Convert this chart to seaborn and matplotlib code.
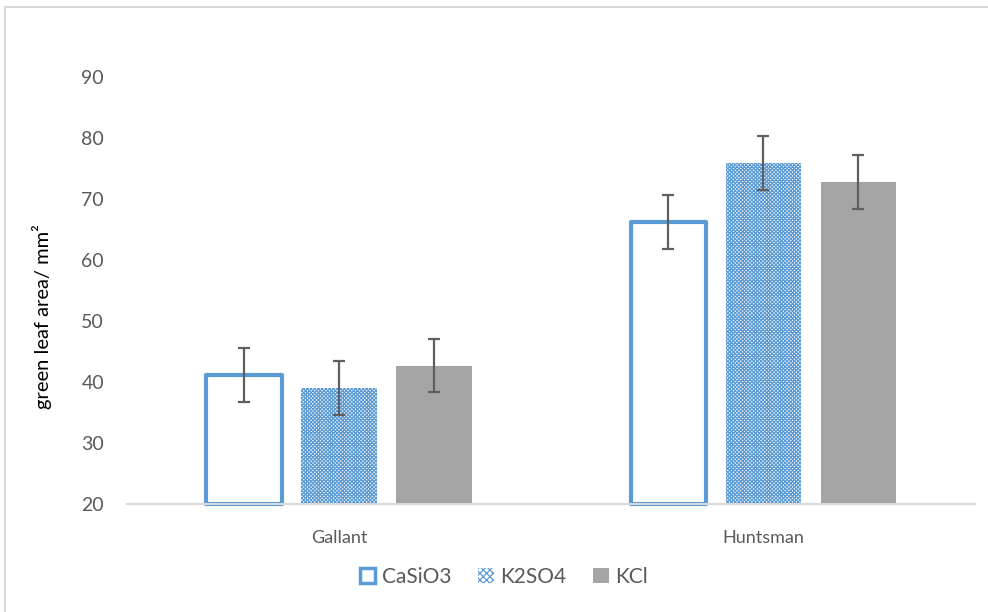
import numpy as np
import pandas as pd
import matplotlib.pyplot as plt
import matplotlib.patches as mpatches
from matplotlib.lines import Line2D
import seaborn as sns

# values
varieties = ["Gallant", "Huntsman"]
treatments = ["CaSiO3", "K2SO4", "KCl"]
casio3 = [41.1, 66.2]
k2so4 = [39.0, 75.9]
kcl = [42.7, 72.8]
casio3_err = [4.4, 4.4]
k2so4_err = [4.4, 4.4]
kcl_err = [4.4, 4.4]

means = {"CaSiO3": casio3, "K2SO4": k2so4, "KCl": kcl}
errors = {"CaSiO3": casio3_err, "K2SO4": k2so4_err, "KCl": kcl_err}

df = pd.DataFrame(
    [(v, t, means[t][i]) for t in treatments for i, v in enumerate(varieties)],
    columns=["variety", "treatment", "area"],
)

sns.set_style("white")
plt.rcParams["font.family"] = ["Lato", "DejaVu Sans"]
plt.rcParams["hatch.linewidth"] = 0.9

blue = "#5B9BD5"
grey = "#A5A5A5"
text_grey = "#595959"

fig = plt.figure(figsize=(9.88, 6.12), dpi=100)
ax = fig.add_axes([0.1285, 0.1765, 0.8585, 0.6975])

sns.barplot(
    data=df, x="variety", y="area", hue="treatment",
    order=varieties, hue_order=treatments,
    palette=[blue, blue, grey], width=0.672, gap=0.21,
    errorbar=None, legend=False, ax=ax,
)

# Excel-style fills: outline, dotted pattern, solid grey; bars start at the axis floor
for cont, t in zip(ax.containers, treatments):
    for patch, val, err in zip(cont.patches, means[t], errors[t]):
        patch.set_y(20)
        patch.set_height(val - 20)
        if t == "CaSiO3":
            patch.set_facecolor("white")
            patch.set_edgecolor(blue)
            patch.set_linewidth(3)
            patch.set_joinstyle("round")
            patch.set_clip_on(False)
        elif t == "K2SO4":
            patch.set_facecolor("white")
            patch.set_edgecolor(blue)
            patch.set_hatch("x" * 9)
            patch.set_linewidth(0)
        else:
            patch.set_facecolor(grey)
            patch.set_linewidth(0)
        cx = patch.get_x() + patch.get_width() / 2
        ax.errorbar(cx, val, yerr=err, color="#5f5f5f", lw=1.6,
                    capsize=4.3, capthick=1.6, zorder=5)

ax.set_ylim(20, 90)
ax.set_xlim(-0.5, 1.5)
ax.set_yticks(np.arange(20, 91, 10))
ax.tick_params(axis="y", labelsize=14, colors=text_grey, length=0, pad=16.5)
ax.tick_params(axis="x", labelsize=13, colors=text_grey, length=0, pad=19)

for s in ["top", "right", "left"]:
    ax.spines[s].set_visible(False)
ax.spines["bottom"].set_color("#D9D9D9")
ax.spines["bottom"].set_linewidth(1.5)

ax.set_xlabel("")
ax.set_ylabel("green leaf area/ mm²", fontsize=14.5, color="black")
ax.yaxis.set_label_coords(-0.088, 0.44)

handles = [
    mpatches.Patch(facecolor="white", edgecolor=blue, linewidth=2.5),
    mpatches.Patch(facecolor="white", edgecolor=blue, hatch="x" * 5, linewidth=0),
    mpatches.Patch(facecolor=grey, edgecolor=grey, linewidth=0),
]
leg = fig.legend(handles, treatments, loc="center", bbox_to_anchor=(0.51, 0.057),
                 ncol=3, frameon=False, fontsize=15, handlelength=0.75,
                 handleheight=0.75, handletextpad=0.3, columnspacing=1.3)
for txt in leg.get_texts():
    txt.set_color(text_grey)

# chart-area border (only left and top visible in the crop)
fig.add_artist(Line2D([4.5 / 988, 4.5 / 988], [0, 1 - 6.5 / 612],
                      transform=fig.transFigure, color="#D9D9D9", lw=1.5))
fig.add_artist(Line2D([4.5 / 988, 1], [1 - 6.5 / 612, 1 - 6.5 / 612],
                      transform=fig.transFigure, color="#D9D9D9", lw=1.5))

fig.savefig("out.png", dpi=100)
